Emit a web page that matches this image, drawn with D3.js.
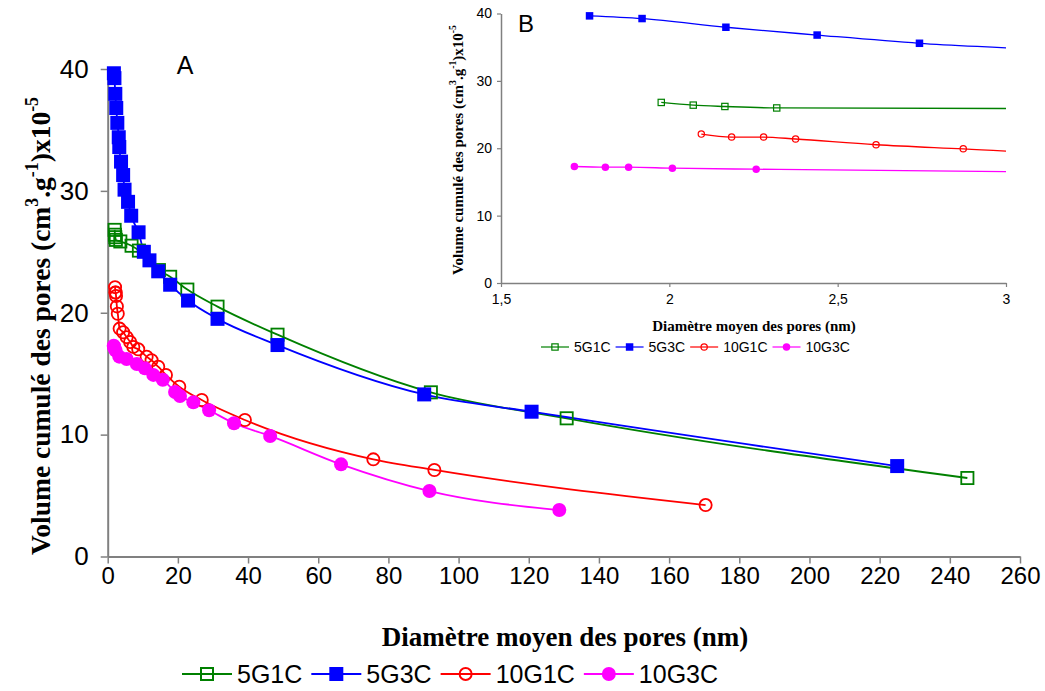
<!DOCTYPE html>
<html><head><meta charset="utf-8">
<script src="https://cdn.jsdelivr.net/npm/d3@7"></script>
<style>body{margin:0;background:#fff}svg{display:block}</style>
</head><body>
<svg id="c" width="1045" height="691"></svg>
<script>
// ---- data (diameter nm, cumulative volume x1e-5) ----
const seriesNames = ["5G1C", "5G3C", "10G1C", "10G3C"];
const s5G1C_x = [1.976, 2.071, 2.165, 2.319, 3.6, 6.8, 8.9, 14.6, 17.8, 22.7, 31.3, 48.4, 92.1, 130.8, 245];
const s5G1C_y = [26.8, 26.4, 26.2, 25.98, 25.85, 25.5, 25.1, 23.5, 22.95, 21.9, 20.5, 18.2, 13.47, 11.34, 6.44];
const s5G3C_x = [1.763, 1.919, 2.168, 2.439, 2.743, 3.15, 3.3, 3.8, 4.4, 4.8, 5.8, 6.7, 8.8, 10.3, 11.9, 14.4, 17.8, 22.9, 31.3, 48.4, 90.2, 120.8, 225];
const s5G3C_y = [39.65, 39.25, 37.96, 36.8, 35.58, 34.4, 33.6, 32.4, 31.3, 30.1, 29.1, 27.96, 26.6, 25.0, 24.3, 23.4, 22.3, 21.0, 19.5, 17.35, 13.3, 11.88, 7.42];
const s10G1C_x = [2.095, 2.185, 2.28, 2.375, 2.614, 2.873, 3.4, 4.4, 5.4, 6.4, 7.3, 8.7, 11.1, 12.5, 14.4, 16.6, 20.4, 26.8, 39.1, 75.7, 93.1, 170.4];
const s10G1C_y = [22.1, 21.66, 21.66, 21.37, 20.52, 19.92, 18.7, 18.4, 18.0, 17.6, 17.2, 17.0, 16.4, 16.1, 15.57, 14.9, 13.93, 12.84, 11.2, 7.97, 7.1, 4.22];
const s10G3C_x = [1.718, 1.81, 1.879, 2.009, 2.258, 3.3, 5.4, 8.3, 10.6, 13.0, 15.7, 19.2, 20.6, 24.4, 28.9, 36.0, 46.3, 66.5, 91.7, 128.7];
const s10G3C_y = [17.29, 17.19, 17.19, 17.04, 16.89, 16.4, 16.2, 15.8, 15.44, 14.9, 14.5, 13.5, 13.17, 12.65, 12.0, 10.93, 9.89, 7.56, 5.37, 3.81];
const mainXTicks = [0,20,40,60,80,100,120,140,160,180,200,220,240,260];
const yTicks = [0,10,20,30,40];
const insetXTicks = [1.5, 2, 2.5, 3];
const insetXTickLabels = ["1,5", "2", "2,5", "3"];

const colors = ["#008000", "#0000FF", "#FF0000", "#FF00FF"];
const markers = ["squareOpen", "square", "circleOpen", "circle"];
const xs = [s5G1C_x, s5G3C_x, s10G1C_x, s10G3C_x];
const ysv = [s5G1C_y, s5G3C_y, s10G1C_y, s10G3C_y];
const series = seriesNames.map((n,i)=>({name:n,color:colors[i],marker:markers[i],
  pts: xs[i].map((x,j)=>({x, y: ysv[i][j]}))}));

const svg = d3.select("#c");
const AX = "#808080";

function drawMarker(g, type, cx, cy, size, color, sw){
  if(type==="square"){
    g.append("rect").attr("x",cx-size/2).attr("y",cy-size/2).attr("width",size).attr("height",size).attr("fill",color);
  } else if(type==="squareOpen"){
    g.append("rect").attr("x",cx-size/2+sw/2).attr("y",cy-size/2+sw/2).attr("width",size-sw).attr("height",size-sw)
      .attr("fill","none").attr("stroke",color).attr("stroke-width",sw);
  } else if(type==="circle"){
    g.append("circle").attr("cx",cx).attr("cy",cy).attr("r",size/2).attr("fill",color);
  } else {
    g.append("circle").attr("cx",cx).attr("cy",cy).attr("r",size/2-sw/2).attr("fill","none").attr("stroke",color).attr("stroke-width",sw);
  }
}

function yTitle(g, x, y, size){
  const t = g.append("text").attr("transform",`translate(${x},${y}) rotate(-90)`)
    .attr("text-anchor","middle").attr("font-family","'Liberation Serif','Times New Roman',serif")
    .attr("font-weight","bold").attr("font-size",size).attr("fill","#000");
  t.append("tspan").text("Volume cumulé des pores (cm");
  t.append("tspan").attr("font-size",size*0.65).attr("dy",-size*0.45).text("3");
  t.append("tspan").attr("dy",size*0.45).text(".g");
  t.append("tspan").attr("font-size",size*0.65).attr("dy",-size*0.45).text("-1");
  t.append("tspan").attr("dy",size*0.45).text(")x10");
  t.append("tspan").attr("font-size",size*0.65).attr("dy",-size*0.45).text("-5");
}

function legend(g, x0, y, items, lineLen, mSize, sw, fontSize, gap){
  let x = x0;
  items.forEach(s=>{
    g.append("line").attr("x1",x).attr("x2",x+lineLen).attr("y1",y).attr("y2",y).attr("stroke",s.color).attr("stroke-width",sw);
    drawMarker(g, s.marker, x+lineLen/2, y, mSize, s.color, sw);
    const t = g.append("text").attr("x",x+lineLen+5).attr("y",y).attr("dy","0.35em")
      .attr("font-family","'Liberation Sans',Arial,sans-serif").attr("font-size",fontSize).text(s.name);
    x += lineLen + 5 + t.node().getComputedTextLength() + gap;
  });
}

// ---------------- main chart ----------------
const x = d3.scaleLinear().domain([0,260]).range([107.7,1020]);
const y = d3.scaleLinear().domain([0,40]).range([556.5,69]);
const main = svg.append("g");

const gx = main.append("g").attr("transform",`translate(0,${y(0)})`)
  .call(d3.axisBottom(x).tickValues(mainXTicks).tickSize(7).tickSizeOuter(0).tickFormat(d3.format("d")));
gx.select(".domain").attr("stroke",AX).attr("stroke-width",2);
gx.selectAll(".tick line").attr("stroke",AX).attr("stroke-width",1.5);
gx.selectAll(".tick text").attr("font-family","'Liberation Sans Narrow','Arial Narrow','Liberation Sans',sans-serif")
  .attr("font-size",24).attr("fill","#000").attr("dy","0.71em").attr("y",10);

const gy = main.append("g").attr("transform",`translate(${x(0)},0)`)
  .call(d3.axisLeft(y).tickValues(yTicks).tickSize(7).tickSizeOuter(0));
gy.select(".domain").attr("stroke",AX).attr("stroke-width",2);
gy.selectAll(".tick line").attr("stroke",AX).attr("stroke-width",1.5);
gy.selectAll(".tick text").attr("font-family","'Liberation Sans',Arial,sans-serif").attr("font-size",26).attr("fill","#000").attr("x",-19);

const lineMain = d3.line().x(d=>x(d.x)).y(d=>y(d.y)).curve(d3.curveMonotoneX);
series.forEach(s=>{
  main.append("path").attr("d",lineMain(s.pts)).attr("fill","none").attr("stroke",s.color).attr("stroke-width",1.8);
});
series.forEach(s=>{
  const g = main.append("g");
  s.pts.forEach(p=>drawMarker(g, s.marker, x(p.x), y(p.y), 14, s.color, 1.8));
});

main.append("text").attr("x",185).attr("y",74).attr("text-anchor","middle")
  .attr("font-family","'Liberation Sans',Arial,sans-serif").attr("font-size",25).text("A");

yTitle(main, 50, 326, 27.5);
main.append("text").attr("x",565).attr("y",646).attr("text-anchor","middle")
  .attr("font-family","'Liberation Serif','Times New Roman',serif").attr("font-weight","bold").attr("font-size",27)
  .text("Diamètre moyen des pores (nm)");
legend(main, 182, 674, series, 50, 14, 2, 25, 9);

// ---------------- inset ----------------
const xi = d3.scaleLinear().domain([1.5,3]).range([501,1006]);
const yi = d3.scaleLinear().domain([0,40]).range([283,13.5]);
const ins = svg.append("g");
svg.append("defs").append("clipPath").attr("id","clipI").append("rect")
  .attr("x",xi(1.5)).attr("y",yi(40)-10).attr("width",xi(3)-xi(1.5)).attr("height",yi(0)-yi(40)+10);

const gxi = ins.append("g").attr("transform",`translate(0,${yi(0)})`)
  .call(d3.axisBottom(xi).tickValues(insetXTicks).tickSize(4).tickSizeOuter(0).tickFormat((d,i)=>insetXTickLabels[i]));
gxi.select(".domain").attr("stroke",AX).attr("stroke-width",1.5);
gxi.selectAll(".tick line").attr("stroke",AX).attr("stroke-width",1.2);
gxi.selectAll(".tick text").attr("font-family","'Liberation Sans',Arial,sans-serif").attr("font-size",14).attr("fill","#000").attr("y",11);

const gyi = ins.append("g").attr("transform",`translate(${xi(1.5)},0)`)
  .call(d3.axisLeft(yi).tickValues(yTicks).tickSize(4).tickSizeOuter(0));
gyi.select(".domain").attr("stroke",AX).attr("stroke-width",1.5);
gyi.selectAll(".tick line").attr("stroke",AX).attr("stroke-width",1.2);
gyi.selectAll(".tick text").attr("font-family","'Liberation Sans',Arial,sans-serif").attr("font-size",14).attr("fill","#000").attr("x",-9);

const lineIns = d3.line().x(d=>xi(d.x)).y(d=>yi(d.y)).curve(d3.curveMonotoneX);
const plotI = ins.append("g").attr("clip-path","url(#clipI)");
series.forEach(s=>{
  plotI.append("path").attr("d",lineIns(s.pts)).attr("fill","none").attr("stroke",s.color).attr("stroke-width",1.3);
});
series.forEach(s=>{
  s.pts.filter(p=>p.x>=1.5 && p.x<=3).forEach(p=>drawMarker(ins, s.marker, xi(p.x), yi(p.y), 7.5, s.color, 1.2));
});

ins.append("text").attr("x",526).attr("y",32).attr("text-anchor","middle")
  .attr("font-family","'Liberation Sans',Arial,sans-serif").attr("font-size",24).text("B");
yTitle(ins, 463, 150, 15);
ins.append("text").attr("x",754).attr("y",331).attr("text-anchor","middle")
  .attr("font-family","'Liberation Serif','Times New Roman',serif").attr("font-weight","bold").attr("font-size",15)
  .text("Diamètre moyen des pores (nm)");
legend(ins, 541, 347, series, 28, 7.5, 1.2, 14, 5);
</script>
</body></html>
